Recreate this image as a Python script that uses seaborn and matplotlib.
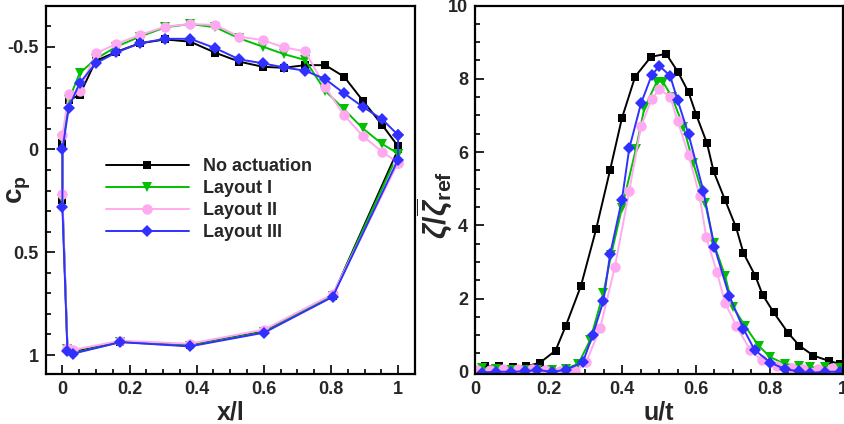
import numpy as np
import pandas as pd
import matplotlib
matplotlib.use("Agg")
import matplotlib.pyplot as plt
import seaborn as sns
from matplotlib.ticker import MultipleLocator, FuncFormatter

# ---------------- data: left panel (pressure coefficient) ----------------
x_upper = [0.0, 0.019, 0.051, 0.099, 0.161, 0.230, 0.306, 0.381, 0.456, 0.527,
           0.597, 0.659, 0.723, 0.783, 0.839, 0.895, 0.953, 1.0]
x_lower = [0.0, 0.015, 0.032, 0.173, 0.379, 0.601, 0.805, 1.0]

cp_up_none = [-0.032, -0.24, -0.264, -0.43, -0.475, -0.516, -0.535, -0.524, -0.470, -0.427,
              -0.402, -0.397, -0.41, -0.41, -0.354, -0.237, -0.118, -0.015]
cp_lo_none = [0.247, 0.965, 0.985, 0.935, 0.952, 0.885, 0.712, 0.0]

cp_up_l1 = [-0.05, -0.24, -0.370, -0.44, -0.50, -0.548, -0.594, -0.61, -0.594, -0.540,
            -0.50, -0.464, -0.435, -0.285, -0.195, -0.102, -0.026, 0.02]
cp_lo_l1 = [0.24, 0.972, 0.99, 0.937, 0.955, 0.888, 0.712, 0.02]

cp_up_l2 = [-0.07, -0.268, -0.285, -0.467, -0.513, -0.556, -0.597, -0.61, -0.605, -0.548,
            -0.532, -0.497, -0.477, -0.303, -0.167, -0.065, 0.012, 0.065]
cp_lo_l2 = [0.218, 0.966, 0.975, 0.93, 0.945, 0.876, 0.704, 0.065]

cp_up_l3 = [0.0, -0.203, -0.322, -0.419, -0.472, -0.516, -0.538, -0.538, -0.492, -0.438,
            -0.419, -0.399, -0.383, -0.342, -0.273, -0.207, -0.146, -0.070]
cp_lo_l3 = [0.282, 0.982, 0.993, 0.937, 0.958, 0.891, 0.717, 0.049]

# ---------------- data: right panel (wake profile) ----------------
u_none = [0.027, 0.066, 0.104, 0.139, 0.177, 0.219, 0.247, 0.288, 0.329, 0.367, 0.399,
          0.435, 0.478, 0.519, 0.551, 0.580, 0.601, 0.630, 0.648, 0.679, 0.709, 0.729,
          0.761, 0.781, 0.811, 0.851, 0.881, 0.919, 0.960, 0.992]
z_none = [0.16, 0.145, 0.12, 0.145, 0.25, 0.58, 1.26, 2.35, 3.89, 5.51, 6.92,
          8.06, 8.60, 8.68, 8.19, 7.63, 7.01, 6.24, 5.47, 4.69, 3.94, 3.24,
          2.62, 2.10, 1.62, 1.05, 0.71, 0.44, 0.30, 0.21]

u_l1 = [0.018, 0.057, 0.097, 0.136, 0.168, 0.208, 0.247, 0.281, 0.313, 0.349, 0.370,
        0.399, 0.437, 0.460, 0.494, 0.510, 0.535, 0.566, 0.593, 0.625, 0.648, 0.679,
        0.700, 0.734, 0.770, 0.802, 0.842, 0.880, 0.910, 0.950, 0.990]
z_l1 = [0.10, 0.08, 0.06, 0.05, 0.05, 0.06, 0.08, 0.22, 0.87, 2.16, 3.20,
        4.47, 6.08, 7.20, 7.92, 7.92, 7.50, 6.69, 5.69, 4.62, 3.51, 2.62,
        1.78, 1.24, 0.71, 0.40, 0.21, 0.17, 0.12, 0.12, 0.10]

u_l2 = [0.005, 0.040, 0.077, 0.116, 0.155, 0.190, 0.230, 0.272, 0.302, 0.340, 0.380,
        0.419, 0.451, 0.480, 0.501, 0.530, 0.550, 0.580, 0.610, 0.628, 0.657, 0.679,
        0.709, 0.747, 0.779, 0.821, 0.860, 0.890, 0.930, 0.970]
z_l2 = [0.04, 0.04, 0.07, 0.07, 0.08, 0.05, 0.01, 0.01, 0.26, 1.19, 2.87,
        4.94, 6.71, 7.45, 7.71, 7.51, 6.86, 5.92, 4.80, 3.67, 2.72, 1.89,
        1.26, 0.60, 0.31, 0.15, 0.10, 0.08, 0.08, 0.10]

u_l3 = [0.018, 0.057, 0.097, 0.136, 0.168, 0.208, 0.247, 0.293, 0.320, 0.349, 0.367,
        0.399, 0.419, 0.451, 0.480, 0.501, 0.530, 0.550, 0.580, 0.620, 0.650, 0.690,
        0.729, 0.759, 0.802, 0.842, 0.881, 0.910, 0.951, 0.992]
z_l3 = [-0.02, 0.0, 0.0, 0.01, 0.05, 0.0, 0.05, 0.26, 1.01, 1.94, 3.21,
        4.69, 6.10, 7.33, 8.10, 8.35, 8.08, 7.42, 6.48, 4.94, 3.42, 2.08,
        1.17, 0.60, 0.25, 0.07, 0.01, -0.03, 0.0, 0.0]

labels = ["No actuation", "Layout I", "Layout II", "Layout III"]
colors = ["#000000", "#00c000", "#ffaaf0", "#3030ff"]
markers = ["s", "v", "o", "D"]
msizes = [6.0, 6.5, 7.5, 6.5]

# ---------------- style ----------------
sns.set_theme(style="ticks")
plt.rcParams["font.family"] = ["Liberation Sans", "DejaVu Sans"]
plt.rcParams["font.weight"] = "bold"
plt.rcParams["mathtext.fontset"] = "custom"
plt.rcParams["mathtext.rm"] = "Liberation Sans:bold"
plt.rcParams["mathtext.bf"] = "Liberation Sans:bold"
plt.rcParams["mathtext.it"] = "Liberation Sans:italic:bold"

fig = plt.figure(figsize=(8.45, 4.24), dpi=100)
axL = fig.add_axes([0.054, 0.118, 0.437, 0.869])
axR = fig.add_axes([0.562, 0.118, 0.436, 0.869])

# left panel
ups = [cp_up_none, cp_up_l1, cp_up_l2, cp_up_l3]
los = [cp_lo_none, cp_lo_l1, cp_lo_l2, cp_lo_l3]
for up, lo, lab, c, m, ms in zip(ups, los, labels, colors, markers, msizes):
    xs = list(reversed(x_upper)) + x_lower + [x_upper[-1]]
    ys = list(reversed(up)) + lo + [up[-1]]
    df = pd.DataFrame({"x": xs, "cp": ys})
    sns.lineplot(data=df, x="x", y="cp", ax=axL, sort=False, estimator=None,
                 color=c, marker=m, markersize=ms, markeredgewidth=0,
                 linewidth=1.4, label=lab)

# right panel
us = [u_none, u_l1, u_l2, u_l3]
zs = [z_none, z_l1, z_l2, z_l3]
for u, z, lab, c, m, ms in zip(us, zs, labels, colors, markers, msizes):
    df = pd.DataFrame({"u": u, "z": z})
    sns.lineplot(data=df, x="u", y="z", ax=axR, sort=False, estimator=None,
                 color=c, marker=m, markersize=ms, markeredgewidth=0,
                 linewidth=1.4, legend=False)

fmt = FuncFormatter(lambda v, p: f"{v:g}")

axL.set_xlim(-0.05, 1.05)
axL.set_ylim(1.092, -0.70)
axL.xaxis.set_major_locator(MultipleLocator(0.2))
axL.xaxis.set_minor_locator(MultipleLocator(0.05))
axL.yaxis.set_major_locator(MultipleLocator(0.5))
axL.yaxis.set_minor_locator(MultipleLocator(0.1))
axL.xaxis.set_major_formatter(fmt)
axL.yaxis.set_major_formatter(fmt)
axL.set_xlabel("x/l", fontsize=18, fontweight="bold", labelpad=2)
axL.set_ylabel(r"$\mathbf{c_p}$", fontsize=20)
axL.yaxis.set_label_coords(-0.035, 0.5)

axR.set_xlim(0, 1)
axR.set_ylim(-0.06, 10)
axR.xaxis.set_major_locator(MultipleLocator(0.2))
axR.xaxis.set_minor_locator(MultipleLocator(0.05))
axR.yaxis.set_major_locator(MultipleLocator(2))
axR.yaxis.set_minor_locator(MultipleLocator(0.5))
axR.xaxis.set_major_formatter(fmt)
axR.yaxis.set_major_formatter(fmt)
axR.set_xlabel("u/t", fontsize=18, fontweight="bold", labelpad=2)
axR.set_ylabel(r"$\zeta/\overline{\zeta}_{\mathbf{ref}}$", fontsize=22)
axR.yaxis.set_label_coords(-0.055, 0.46)

for ax in (axL, axR):
    for s in ax.spines.values():
        s.set_linewidth(1.6)
        s.set_color("black")
    ax.tick_params(which="both", direction="in", top=False, right=False,
                   labelsize=13, width=1.2, color="black", pad=5)
    ax.tick_params(which="major", length=6.5)
    ax.tick_params(which="minor", length=3.5)
    for t in ax.get_xticklabels() + ax.get_yticklabels():
        t.set_fontweight("bold")
    ax.set_facecolor("white")

leg = axL.legend(loc="upper left", bbox_to_anchor=(0.143, 0.605), frameon=False,
                 fontsize=13, handlelength=4.6, handletextpad=0.8,
                 labelspacing=0.28, borderaxespad=0)
for t in leg.get_texts():
    t.set_fontweight("bold")

fig.savefig("out.png", dpi=100, facecolor="white")
